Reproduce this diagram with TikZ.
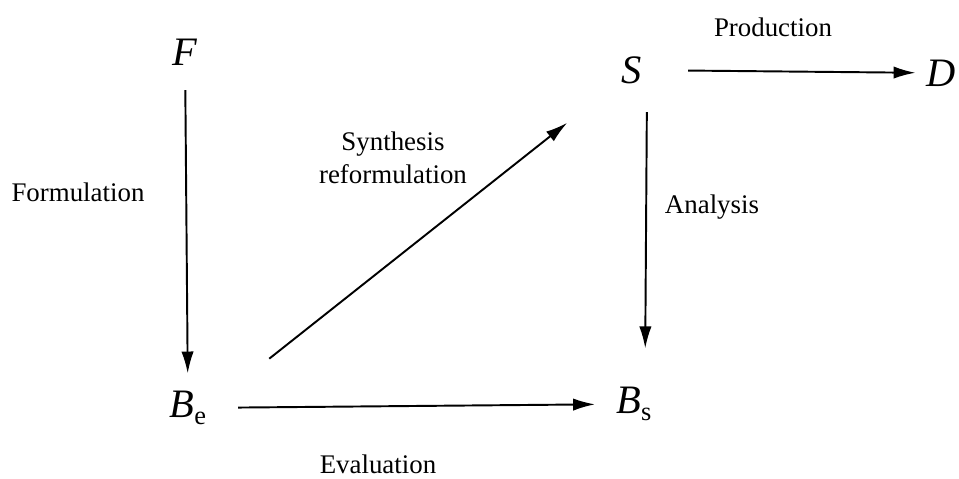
\documentclass[tikz,border=0pt]{standalone}
\usepackage{fontspec}
\setmainfont{Liberation Serif}
\usetikzlibrary{arrows.meta, positioning, calc}

\tikzset{
  stage/.style={font=\fontsize{23}{26}\selectfont\itshape, inner sep=2pt},
  lbl/.style={font=\fontsize{15.3}{19}\selectfont, align=center, inner sep=0pt},
  arr/.style={-{Latex[length=12.5pt,width=7pt]}, line width=1.1pt}
}
\newcommand{\sub}[1]{\raisebox{-0.35ex}{\fontsize{15}{15}\selectfont\upshape #1}}

\begin{document}
\begin{tikzpicture}[x=0.02cm, y=-0.02cm]
  \useasboundingbox (0,0) rectangle (959,478);
  % the five stages
  \node[stage] (F) at (185,52) {F};
  \node[stage] (Be) at (188,408) {B\sub{e}};
  \node[stage] (S) at (632,70) {S};
  \node[stage] (Bs) at (634,404) {B\sub{s}};
  \node[stage] (D) at (941,73) {D};
  % labels
  \node[lbl] (form) at (78,192) {Formulation};
  \node[lbl] (synth) at (393,158) {Synthesis\\reformulation};
  \node[lbl] (anal) at (712,207) {Analysis};
  \node[lbl] (prod) at (773,27) {Production};
  \node[lbl] (eval) at (378,464) {Evaluation};
  % connectors
  \draw[arr, shorten <=59pt, shorten >=47pt] ([yshift=-0.3cm]Be.center) -- ([yshift=-0.03cm]S.center);
  \draw[arr, shorten <=12pt, shorten >=8pt] (F) -- (Be);
  \draw[arr, shorten <=16pt, shorten >=10pt] (Be) -- (Bs);
  \draw[arr, shorten <=14pt, shorten >=20pt] ([xshift=0.3cm]S.south) -- ([xshift=0.22cm]Bs.north);
  \draw[arr, shorten <=24pt, shorten >=4pt] (S) -- (D);
\end{tikzpicture}
\end{document}
